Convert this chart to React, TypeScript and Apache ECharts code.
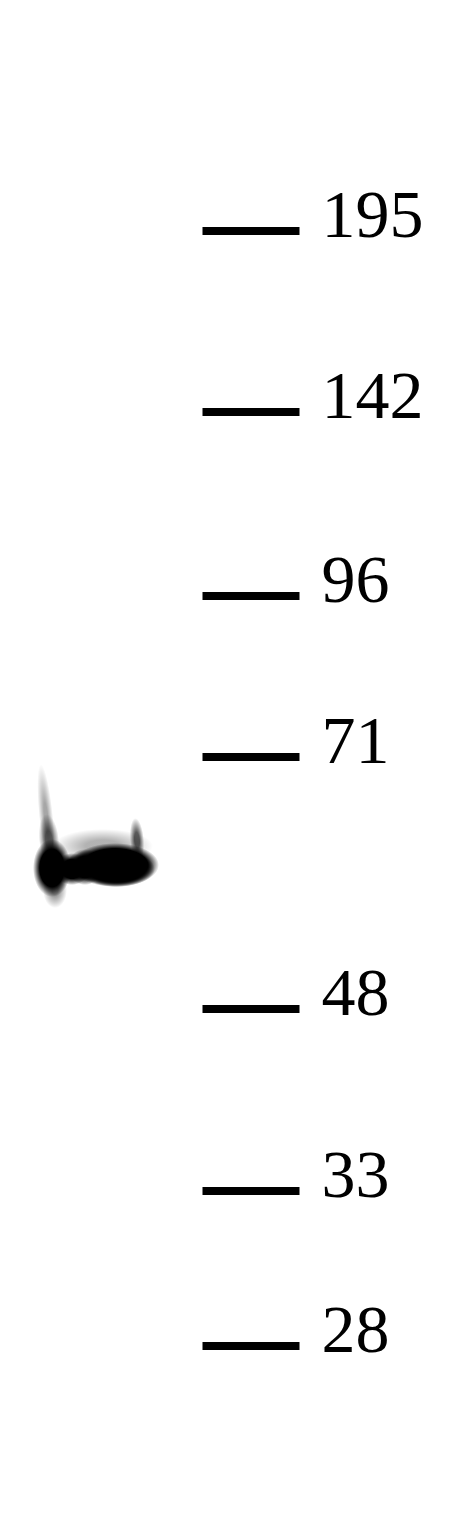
import React, { useEffect, useRef } from 'react';
import * as echarts from 'echarts';

// ladder (marker) sizes in kDa and where each one ran on the blot (px from top)
const markerKDa = [195, 142, 96, 71, 48, 33, 28];
const markerMigration = [231, 412, 596, 757, 1009, 1191, 1346];

// sample lane(s) and the detected band
const laneNames = ['Lane 1'];
const laneCenter = [95];
const bandMigration = [866];

const W = 473;
const H = 1520;
const LADDER_X = 251;

// soft elliptical spot: a circle with a radial fade, stretched vertically
const spot = (cx: number, cy: number, rx: number, ry: number, core: number, alpha: number, rotation = 0) => ({
  type: 'circle',
  x: cx,
  y: cy,
  rotation,
  scaleY: ry / rx,
  shape: { cx: 0, cy: 0, r: rx },
  style: {
    fill: new echarts.graphic.RadialGradient(0.5, 0.5, 0.5, [
      { offset: 0, color: `rgba(0,0,0,${alpha})` },
      { offset: core, color: `rgba(0,0,0,${alpha})` },
      { offset: 1, color: 'rgba(0,0,0,0)' },
    ]),
  },
});

const App: React.FC = () => {
  const chartRef = useRef<HTMLDivElement | null>(null);

  useEffect(() => {
    document.body.style.margin = '0';
    if (!chartRef.current) return;
    const chart = echarts.init(chartRef.current, undefined, { renderer: 'svg' });

    const option = {
      animation: false,
      backgroundColor: '#ffffff',
      grid: { left: 0, right: 0, top: 0, bottom: 0 },
      xAxis: { type: 'value', min: 0, max: W, show: false },
      yAxis: { type: 'value', min: 0, max: H, inverse: true, show: false },
      series: [
        {
          name: 'Marker',
          type: 'scatter',
          symbol: 'rect',
          symbolSize: [97, 8],
          data: markerMigration.map((m) => [LADDER_X, m]),
          itemStyle: { color: '#000000', opacity: 1 },
          label: {
            show: true,
            position: 'right',
            distance: 22,
            offset: [0, -17],
            formatter: (p: any) => String(markerKDa[p.dataIndex]),
            fontSize: 68,
            fontFamily: "'Liberation Serif', 'Times New Roman', serif",
            color: '#000000',
            opacity: 1,
          },
          emphasis: { disabled: true },
        },
        {
          name: laneNames[0],
          type: 'custom',
          data: laneCenter.map((x, i) => [x, bandMigration[i]]),
          renderItem: (params: any, api: any) => {
            const c = api.coord([api.value(0), api.value(1)]);
            const x = c[0];
            const y = c[1];
            return {
              type: 'group',
              children: [
                // smear above the band
                spot(x + 8, y - 20, 50, 17, 0.35, 0.3),
                // streak rising on the left
                spot(x - 49, y - 50, 7, 52, 0.25, 0.35, 0.1),
                spot(x - 46, y - 26, 10, 26, 0.35, 0.6, 0.1),
                // right tip
                spot(x + 42, y - 26, 7, 22, 0.35, 0.65, 0.08),
                // lower tail of the left lobe
                spot(x - 40, y + 24, 12, 18, 0.25, 0.45),
                // left lobe
                spot(x - 43, y + 2, 19, 29, 0.65, 1),
                // neck
                spot(x - 23, y + 3, 18, 16, 0.6, 1),
                spot(x - 10, y + 1, 18, 18, 0.6, 1),
                // right body
                spot(x + 20, y - 1, 44, 22, 0.75, 1),
                spot(x + 22, y + 3, 38, 18, 0.72, 1),
              ],
            };
          },
        },
      ],
    };

    chart.setOption(option);
    return () => {
      chart.dispose();
    };
  }, []);

  return <div ref={chartRef} style={{ width: W + 'px', height: H + 'px' }} />;
};

export default App;
